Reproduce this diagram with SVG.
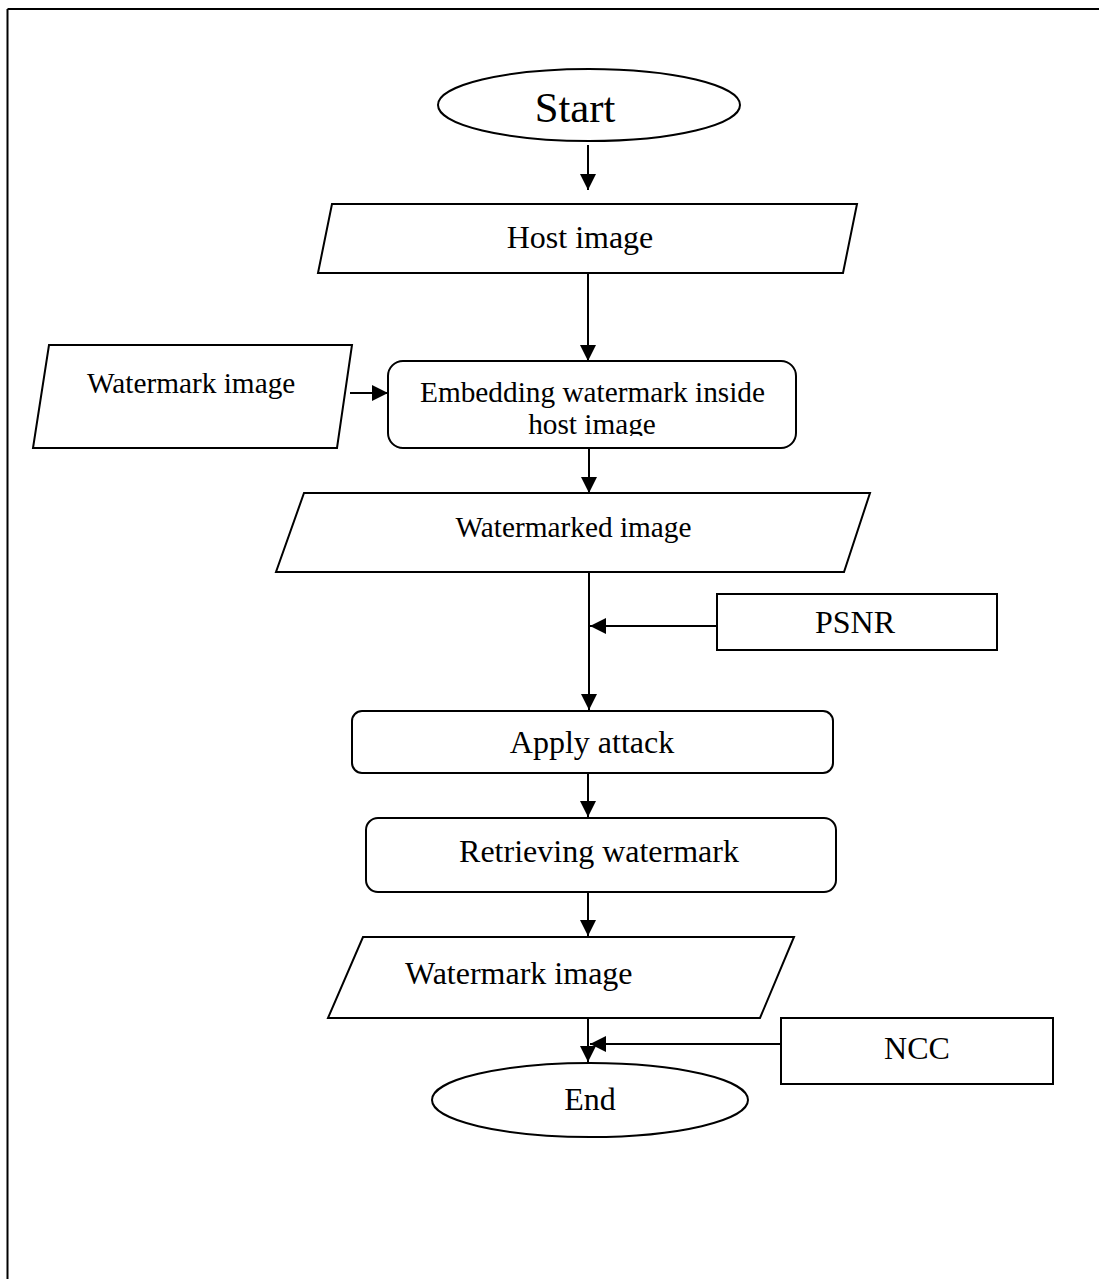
<svg xmlns="http://www.w3.org/2000/svg" width="1099" height="1279" viewBox="0 0 1099 1279">
<style>
.s{fill:#fff;stroke:#000;stroke-width:2}
.t{font-family:"Liberation Serif","Times New Roman",serif;fill:#000}
.c{stroke:#000;stroke-width:2;fill:none;marker-end:url(#ah)}
</style>
<defs>
<marker id="ah" markerUnits="userSpaceOnUse" markerWidth="18" markerHeight="18" refX="16" refY="8" orient="auto">
<path d="M0,0 L16,8 L0,16 Z" fill="#000"/>
</marker>
<clipPath id="embClip"><rect x="388" y="361" width="408" height="75"/></clipPath>
</defs>
<rect width="1099" height="1279" fill="#fff"/>
<g id="frame" stroke="#000" stroke-width="2" fill="none">
<line x1="7.5" y1="9" x2="1099" y2="9"/>
<line x1="7.5" y1="9" x2="7.5" y2="1279"/>
</g>
<g id="start">
<ellipse class="s" cx="589" cy="105" rx="151" ry="36"/>
<text class="t" x="575" y="122" font-size="42.7" text-anchor="middle">Start</text>
</g>
<g id="host">
<polygon class="s" points="332,204 857,204 843,273 318,273"/>
<text class="t" x="580" y="248" font-size="32" text-anchor="middle">Host image</text>
</g>
<g id="watermark-in">
<polygon class="s" points="49,345 352,345 337,448 33,448"/>
<text class="t" x="87" y="393" font-size="29.3">Watermark image</text>
</g>
<g id="embed">
<rect class="s" x="388" y="361" width="408" height="87" rx="15"/>
<g clip-path="url(#embClip)">
<text class="t" x="592.5" y="402" font-size="29.3" text-anchor="middle">Embedding watermark inside</text>
<text class="t" x="592" y="434" font-size="29.3" text-anchor="middle">host image</text>
</g>
</g>
<g id="watermarked">
<polygon class="s" points="304,493 870,493 844,572 276,572"/>
<text class="t" x="573.5" y="537" font-size="29.3" text-anchor="middle">Watermarked image</text>
</g>
<g id="psnr">
<rect class="s" x="717" y="594" width="280" height="56"/>
<text class="t" x="855" y="633" font-size="32" text-anchor="middle">PSNR</text>
</g>
<g id="attack">
<rect class="s" x="352" y="711" width="481" height="62" rx="10"/>
<text class="t" x="592" y="753" font-size="32" text-anchor="middle">Apply attack</text>
</g>
<g id="retrieve">
<rect class="s" x="366" y="818" width="470" height="74" rx="12"/>
<text class="t" x="599" y="862" font-size="32" text-anchor="middle">Retrieving watermark</text>
</g>
<g id="watermark-out">
<polygon class="s" points="363,937 794,937 760,1018 328,1018"/>
<text class="t" x="405" y="984" font-size="32">Watermark image</text>
</g>
<g id="ncc">
<rect class="s" x="781" y="1018" width="272" height="66"/>
<text class="t" x="917" y="1059" font-size="32" text-anchor="middle">NCC</text>
</g>
<g id="end">
<ellipse class="s" cx="590" cy="1100" rx="158" ry="37"/>
<text class="t" x="590" y="1110" font-size="32" text-anchor="middle">End</text>
</g>
<g id="connectors">
<line class="c" x1="588" y1="145" x2="588" y2="190"/>
<line class="c" x1="588" y1="273" x2="588" y2="361"/>
<line class="c" x1="350" y1="393" x2="388" y2="393"/>
<line class="c" x1="589" y1="448" x2="589" y2="493"/>
<line class="c" x1="589" y1="572" x2="589" y2="710"/>
<line class="c" x1="717" y1="626" x2="590" y2="626"/>
<line class="c" x1="588" y1="773" x2="588" y2="817"/>
<line class="c" x1="588" y1="892" x2="588" y2="936"/>
<line class="c" x1="588" y1="1018" x2="588" y2="1062"/>
<line class="c" x1="781" y1="1044" x2="590" y2="1044"/>
</g>
</svg>
